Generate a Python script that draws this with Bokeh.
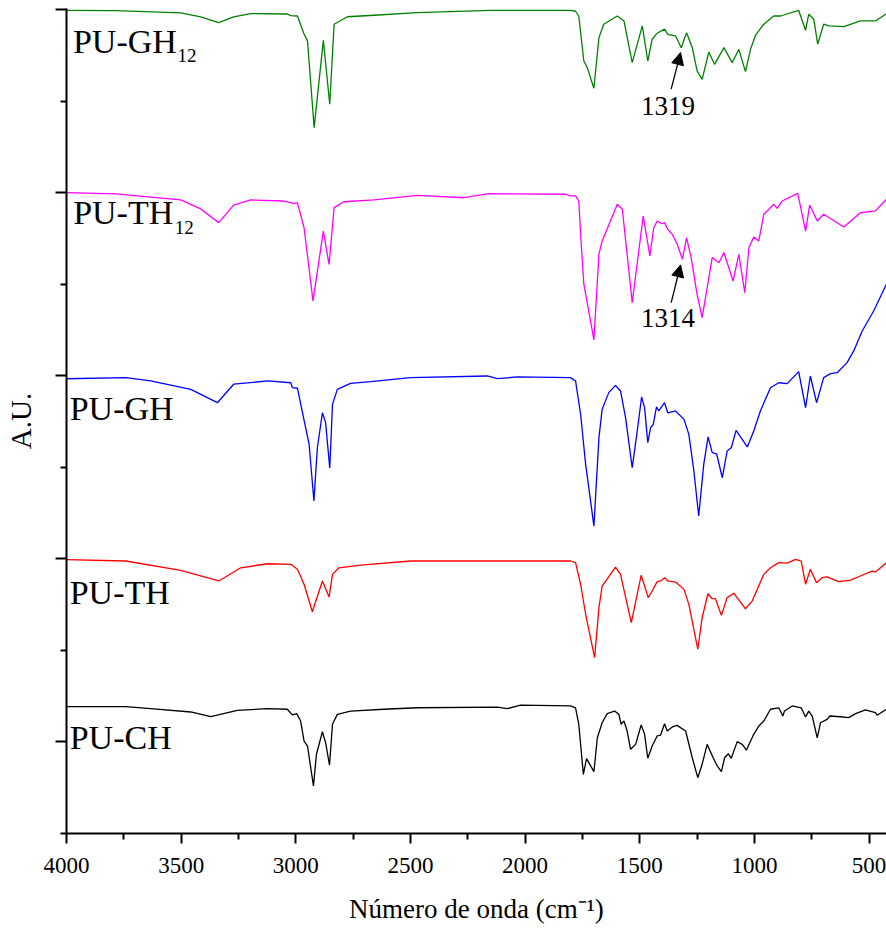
from bokeh.plotting import figure
from bokeh.models import Range1d, FixedTicker, Label, Arrow, NormalHead, CustomJSTickFormatter
from bokeh.embed import file_html
from bokeh.resources import INLINE

# ---------------- data (wavenumber in cm-1, stacked A.U.) ----------------
gh12_wn = [4000, 3785, 3502, 3415, 3336, 3271, 3197, 3037, 3022, 2993, 2964, 2949, 2920, 2880, 2852,
           2833, 2775, 2659, 2470, 2150, 1802, 1780, 1766, 1744, 1729, 1700, 1678, 1657, 1598, 1569,
           1533, 1489, 1465, 1446, 1424, 1392, 1378, 1344, 1319, 1296, 1271, 1250, 1228, 1199, 1174,
           1133, 1097, 1068, 1039, 1017, 995, 959, 916, 886, 807, 777, 763, 741, 724, 698,
           676, 610, 538, 472, 424]
gh12_au = [3.998, 3.996, 3.984, 3.962, 3.931, 3.962, 3.980, 3.978, 3.969, 3.967, 3.869, 3.831, 3.357, 3.834, 3.485,
           3.922, 3.963, 3.971, 3.985, 3.998, 3.998, 3.993, 3.967, 3.721, 3.685, 3.572, 3.849, 3.922, 3.967, 3.940,
           3.712, 3.913, 3.721, 3.840, 3.873, 3.895, 3.867, 3.858, 3.794, 3.876, 3.794, 3.667, 3.621, 3.770, 3.703,
           3.794, 3.712, 3.785, 3.663, 3.785, 3.862, 3.922, 3.967, 3.967, 3.998, 3.889, 3.977, 3.949, 3.813, 3.922,
           3.913, 3.909, 3.940, 3.940, 3.980]

th12_wn = [4000, 3785, 3502, 3415, 3336, 3271, 3197, 3053, 3022, 3010, 2993, 2964, 2925, 2880, 2855,
           2833, 2790, 2659, 2470, 2267, 2158, 1824, 1802, 1780, 1766, 1758, 1744, 1700, 1678, 1664,
           1598, 1576, 1533, 1485, 1456, 1439, 1424, 1402, 1392, 1378, 1358, 1337, 1314, 1296, 1276,
           1250, 1228, 1184, 1155, 1133, 1093, 1068, 1042, 1024, 1003, 981, 959, 937, 916, 901,
           879, 811, 777, 759, 726, 698, 610, 538, 472, 424]
th12_au = [3.002, 2.995, 2.962, 2.913, 2.838, 2.934, 2.962, 2.956, 2.947, 2.942, 2.947, 2.810, 2.410, 2.792, 2.610,
           2.920, 2.952, 2.962, 2.987, 2.974, 2.996, 2.993, 2.984, 2.984, 2.956, 2.776, 2.503, 2.197, 2.667, 2.738,
           2.938, 2.911, 2.401, 2.874, 2.656, 2.810, 2.847, 2.832, 2.838, 2.802, 2.774, 2.720, 2.638, 2.756, 2.647,
           2.446, 2.319, 2.647, 2.619, 2.674, 2.519, 2.665, 2.455, 2.701, 2.760, 2.738, 2.884, 2.911, 2.938, 2.916,
           2.956, 2.998, 2.792, 2.934, 2.847, 2.884, 2.814, 2.892, 2.902, 2.966]

gh_wn = [4000, 3742, 3633, 3458, 3342, 3271, 3124, 3022, 3015, 2993, 2957, 2942, 2921, 2906, 2884,
         2870, 2852, 2840, 2819, 2761, 2674, 2499, 2165, 2121, 2034, 1802, 1780, 1758, 1736, 1700,
         1678, 1664, 1635, 1606, 1584, 1562, 1533, 1511, 1492, 1479, 1465, 1453, 1441, 1427, 1417,
         1392, 1378, 1344, 1307, 1286, 1264, 1243, 1221, 1202, 1184, 1165, 1140, 1119, 1101, 1080,
         1031, 1003, 974, 930, 894, 857, 807, 777, 756, 729, 698, 668, 639, 596, 567,
         530, 480, 424]
gh_au = [1.985, 1.991, 1.973, 1.927, 1.854, 1.955, 1.973, 1.963, 1.936, 1.933, 1.717, 1.627, 1.317, 1.608, 1.799,
         1.745, 1.496, 1.845, 1.927, 1.960, 1.969, 1.991, 2.000, 1.985, 1.995, 1.991, 1.973, 1.791, 1.517, 1.180,
         1.663, 1.818, 1.909, 1.949, 1.918, 1.772, 1.499, 1.699, 1.885, 1.827, 1.636, 1.717, 1.736, 1.831, 1.809,
         1.854, 1.799, 1.809, 1.763, 1.681, 1.481, 1.235, 1.517, 1.667, 1.581, 1.575, 1.444, 1.590, 1.608, 1.703,
         1.612, 1.699, 1.809, 1.936, 1.963, 1.958, 2.024, 1.827, 2.000, 1.854, 1.991, 2.013, 2.018, 2.073, 2.137,
         2.246, 2.355, 2.503]

th_wn = [4000, 3742, 3502, 3336, 3240, 3124, 3022, 2993, 2964, 2928, 2884, 2855, 2840, 2812, 2717,
         2499, 1802, 1780, 1758, 1736, 1697, 1678, 1664, 1606, 1584, 1537, 1494, 1463, 1446, 1424,
         1409, 1391, 1378, 1344, 1307, 1286, 1247, 1228, 1203, 1184, 1170, 1144, 1119, 1090, 1039,
         1010, 959, 930, 894, 857, 821, 796, 777, 756, 729, 705, 683, 632, 581, 538,
         487, 472, 424]
th_au = [0.996, 0.989, 0.938, 0.880, 0.952, 0.974, 0.971, 0.944, 0.862, 0.712, 0.880, 0.792, 0.916, 0.952, 0.967,
         0.989, 0.989, 0.980, 0.862, 0.698, 0.461, 0.734, 0.852, 0.956, 0.916, 0.652, 0.911, 0.789, 0.825, 0.876,
         0.880, 0.898, 0.880, 0.874, 0.834, 0.752, 0.507, 0.679, 0.810, 0.783, 0.783, 0.692, 0.789, 0.813, 0.728,
         0.770, 0.916, 0.952, 0.980, 0.977, 0.998, 0.989, 0.862, 0.944, 0.870, 0.898, 0.902, 0.876, 0.884, 0.907,
         0.934, 0.929, 0.980]

ch_wn = [4000, 3742, 3633, 3458, 3371, 3255, 3124, 3037, 3015, 2996, 2979, 2964, 2949, 2923, 2910,
         2884, 2870, 2853, 2840, 2819, 2761, 2616, 2470, 2121, 2078, 2020, 1802, 1780, 1766, 1746,
         1732, 1718, 1700, 1685, 1664, 1642, 1610, 1591, 1581, 1569, 1555, 1540, 1518, 1494, 1479,
         1465, 1446, 1424, 1409, 1392, 1380, 1358, 1337, 1300, 1271, 1247, 1228, 1206, 1180, 1162,
         1144, 1130, 1114, 1101, 1075, 1053, 1035, 1003, 981, 959, 930, 894, 876, 869, 835,
         796, 777, 763, 748, 726, 712, 683, 671, 625, 589, 559, 516, 472, 465, 424]
ch_au = [0.193, 0.193, 0.182, 0.164, 0.138, 0.173, 0.182, 0.179, 0.148, 0.155, 0.115, 0.005, -0.022, -0.240, -0.067,
         0.056, -0.004, -0.126, 0.097, 0.151, 0.169, 0.179, 0.187, 0.191, 0.182, 0.202, 0.197, 0.187, 0.097, -0.177,
         -0.091, -0.122, -0.162, 0.023, 0.105, 0.155, 0.169, 0.151, 0.097, 0.115, 0.060, -0.040, -0.013, 0.093, 0.042,
         -0.089, -0.022, 0.033, 0.038, 0.100, 0.060, 0.082, 0.091, 0.060, -0.086, -0.195, -0.122, -0.013, -0.086, -0.131,
         -0.162, -0.086, -0.064, -0.089, 0.002, -0.013, -0.045, 0.042, 0.087, 0.115, 0.179, 0.187, 0.142, 0.169, 0.197,
         0.187, 0.137, 0.169, 0.142, 0.023, 0.105, 0.124, 0.142, 0.138, 0.133, 0.155, 0.175, 0.160, 0.146, 0.179]

series_names = ["PU-GH", "PU-TH", "PU-GH", "PU-TH", "PU-CH"]
series_subs = ["12", "12", "", "", ""]
series_colors = ["#008000", "#FF00FF", "#0000FF", "#FF0000", "#000000"]

x_ticks = [4000, 3500, 3000, 2500, 2000, 1500, 1000, 500]
x_minor = [3750, 3250, 2750, 2250, 1750, 1250, 750]
y_ticks = [0, 1, 2, 3, 4]
y_minor = [-0.5, 0.5, 1.5, 2.5, 3.5]

peak_labels = ["1319", "1314"]
x_title = "Número de onda (cm\u207b\u00b9)"
y_title = "A.U."

FONT = "Liberation Serif"

# ---------------- figure ----------------
p = figure(width=886, height=931, output_backend="svg", toolbar_location=None,
           x_range=Range1d(4000, 424), y_range=Range1d(-0.5, 4.008),
           min_border_left=66, min_border_right=0, min_border_top=8, min_border_bottom=98)
p.outline_line_color = None
p.xgrid.visible = False
p.ygrid.visible = False
p.background_fill_color = "white"
p.border_fill_color = "white"

p.xaxis.ticker = FixedTicker(ticks=x_ticks, minor_ticks=x_minor)
p.yaxis.ticker = FixedTicker(ticks=y_ticks, minor_ticks=y_minor)

for ax in (p.xaxis[0], p.yaxis[0]):
    ax.axis_line_width = 2
    ax.axis_line_color = "black"
    ax.major_tick_line_width = 2
    ax.minor_tick_line_width = 2
    ax.major_tick_line_color = "black"
    ax.minor_tick_line_color = "black"
    ax.major_tick_in = 0
    ax.minor_tick_in = 0
    ax.minor_tick_out = 6

xa = p.xaxis[0]
xa.major_tick_out = 10
xa.major_label_text_font = FONT
xa.major_label_text_font_style = "normal"
xa.major_label_text_font_size = "23px"
xa.major_label_text_color = "black"
xa.major_label_standoff = 14
xa.axis_label = x_title
xa.axis_label_text_font = FONT
xa.axis_label_text_font_size = "27px"
xa.axis_label_text_font_style = "normal"
xa.axis_label_text_color = "black"
xa.axis_label_standoff = 18

ya = p.yaxis[0]
ya.major_tick_out = 11
ya.formatter = CustomJSTickFormatter(code="return ''")
ya.major_label_standoff = 0
ya.axis_label = y_title
ya.axis_label_text_font = FONT
ya.axis_label_text_font_size = "29px"
ya.axis_label_text_font_style = "normal"
ya.axis_label_text_color = "black"
ya.axis_label_standoff = 19

# ---------------- spectra ----------------
spectra = [(gh12_wn, gh12_au), (th12_wn, th12_au), (gh_wn, gh_au), (th_wn, th_au), (ch_wn, ch_au)]
for (wn, au), col in zip(spectra, series_colors):
    p.line(wn, au, line_color=col, line_width=1.3)

# ---------------- series labels ----------------
name_pos = [(3972, 3.827), (3971, 2.892), (3986, 1.820), (3986, 0.816), (3986, 0.026)]
sub_pos = [(3516, 3.749), (3528, 2.809), None, None, None]
for name, sub, npos, spos in zip(series_names, series_subs, name_pos, sub_pos):
    p.add_layout(Label(x=npos[0], y=npos[1], text=name, text_font=FONT, text_font_size="34px",
                       text_color="black", text_baseline="alphabetic", text_align="left"))
    if sub:
        p.add_layout(Label(x=spos[0], y=spos[1], text=sub, text_font=FONT, text_font_size="19px",
                           text_color="black", text_baseline="alphabetic", text_align="left"))

# ---------------- peak annotations ----------------
ann = [((1363, 3.567), (1322, 3.767), (1377, 3.475)),
       ((1363, 2.401), (1322, 2.607), (1377, 2.315))]
for lab, (tail, tip, tpos) in zip(peak_labels, ann):
    p.add_layout(Arrow(end=NormalHead(size=12, fill_color="black", line_color="black", line_width=1),
                       x_start=tail[0], y_start=tail[1], x_end=tip[0], y_end=tip[1],
                       line_color="black", line_width=1.3))
    p.add_layout(Label(x=tpos[0], y=tpos[1], text=lab, text_font=FONT, text_font_size="27px",
                       text_color="black", text_baseline="alphabetic", text_align="center"))

open("out.html", "w").write(file_html(p, INLINE))
